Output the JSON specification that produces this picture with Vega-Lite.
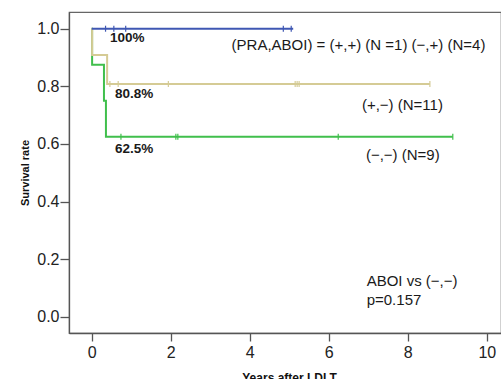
{
  "$schema": "https://vega.github.io/schema/vega-lite/v6.json",
  "width": 432,
  "height": 321,
  "autosize": "none",
  "padding": {"left": 69, "top": 12, "right": 0, "bottom": 46},
  "background": "white",
  "config": {
    "view": {"stroke": "#666666", "strokeWidth": 1.2},
    "font": "Liberation Sans"
  },
  "datasets": {
    "curves": [
      {"grp": "(-,-)", "t": 0, "s": 1},
      {"grp": "(-,-)", "t": 0.01, "s": 0.875},
      {"grp": "(-,-)", "t": 0.31, "s": 0.75},
      {"grp": "(-,-)", "t": 0.36, "s": 0.625},
      {"grp": "(-,-)", "t": 9.14, "s": 0.625},
      {"grp": "(+,-)", "t": 0, "s": 1},
      {"grp": "(+,-)", "t": 0.01, "s": 0.909},
      {"grp": "(+,-)", "t": 0.39, "s": 0.808},
      {"grp": "(+,-)", "t": 8.56, "s": 0.808},
      {"grp": "ABOI", "t": 0, "s": 1},
      {"grp": "ABOI", "t": 5.1, "s": 1}
    ],
    "censor": [
      {"grp": "(-,-)", "t": 0.74, "s": 0.625},
      {"grp": "(-,-)", "t": 2.13, "s": 0.625},
      {"grp": "(-,-)", "t": 2.18, "s": 0.625},
      {"grp": "(-,-)", "t": 6.24, "s": 0.625},
      {"grp": "(-,-)", "t": 9.14, "s": 0.625},
      {"grp": "(+,-)", "t": 0.46, "s": 0.808},
      {"grp": "(+,-)", "t": 0.67, "s": 0.808},
      {"grp": "(+,-)", "t": 1.94, "s": 0.808},
      {"grp": "(+,-)", "t": 5.15, "s": 0.808},
      {"grp": "(+,-)", "t": 5.2, "s": 0.808},
      {"grp": "(+,-)", "t": 5.25, "s": 0.808},
      {"grp": "(+,-)", "t": 8.56, "s": 0.808},
      {"grp": "ABOI", "t": 0.35, "s": 1},
      {"grp": "ABOI", "t": 0.56, "s": 1},
      {"grp": "ABOI", "t": 0.86, "s": 1},
      {"grp": "ABOI", "t": 4.85, "s": 1},
      {"grp": "ABOI", "t": 5.05, "s": 1}
    ],
    "pct": [
      {"t": 0.46, "s": 0.967, "label": "100%"},
      {"t": 0.59, "s": 0.772, "label": "80.8%"},
      {"t": 0.59, "s": 0.581, "label": "62.5%"}
    ],
    "notes": [
      {"t": 3.54, "s": 0.943, "label": "(PRA,ABOI) = (+,+) (N =1)  (−,+) (N=4)"},
      {"t": 6.84, "s": 0.734, "label": "(+,−) (N=11)"},
      {"t": 6.94, "s": 0.563, "label": "(−,−) (N=9)"},
      {"t": 6.96, "s": 0.125, "label": "ABOI vs (−,−)"},
      {"t": 6.96, "s": 0.057, "label": "p=0.157"}
    ]
  },
  "layer": [
    {
      "data": {"name": "curves"},
      "mark": {"type": "line", "interpolate": "step-after", "strokeWidth": 2, "clip": true},
      "encoding": {
        "x": {
          "field": "t", "type": "quantitative",
          "scale": {"domain": [-0.575, 10.36], "nice": false, "zero": false},
          "axis": {
            "values": [0, 2, 4, 6, 8, 10], "format": "d",
            "title": "Years after LDLT", "titleFontSize": 12, "titleFontWeight": "bold",
            "titleColor": "#111", "titlePadding": 12, "titleX": 220,
            "labelFontSize": 16, "labelColor": "#222", "labelPadding": 3,
            "tickSize": 8, "tickColor": "#555", "tickWidth": 1.3,
            "domainColor": "#555", "domainWidth": 1.3, "grid": false
          }
        },
        "y": {
          "field": "s", "type": "quantitative",
          "scale": {"domain": [-0.056, 1.058], "nice": false, "zero": false},
          "axis": {
            "values": [0, 0.2, 0.4, 0.6, 0.8, 1.0], "format": ".1f",
            "title": "Survival rate", "titleFontSize": 11, "titleFontWeight": "bold",
            "titleColor": "#111", "titlePadding": 6,
            "labelFontSize": 16, "labelColor": "#222", "labelPadding": 1,
            "tickSize": 9, "tickColor": "#555", "tickWidth": 1.3,
            "domainColor": "#555", "domainWidth": 1.3, "grid": false
          }
        },
        "color": {
          "field": "grp", "type": "nominal", "legend": null,
          "scale": {"domain": ["(-,-)", "(+,-)", "ABOI"], "range": ["#40bf4c", "#d5cb95", "#3f57b3"]}
        }
      }
    },
    {
      "data": {"name": "censor"},
      "mark": {"type": "point", "shape": "M0,-1L0,1", "size": 36, "filled": false, "strokeWidth": 1.2, "opacity": 1},
      "encoding": {
        "x": {"field": "t", "type": "quantitative"},
        "y": {"field": "s", "type": "quantitative"},
        "color": {"field": "grp", "type": "nominal", "legend": null}
      }
    },
    {
      "data": {"name": "pct"},
      "mark": {"type": "text", "align": "left", "baseline": "middle", "fontSize": 13.5, "fontWeight": "bold", "color": "#1a1a1a"},
      "encoding": {
        "x": {"field": "t", "type": "quantitative"},
        "y": {"field": "s", "type": "quantitative"},
        "text": {"field": "label"}
      }
    },
    {
      "data": {"name": "notes"},
      "mark": {"type": "text", "align": "left", "baseline": "middle", "fontSize": 15, "color": "#1a1a1a"},
      "encoding": {
        "x": {"field": "t", "type": "quantitative"},
        "y": {"field": "s", "type": "quantitative"},
        "text": {"field": "label"}
      }
    }
  ]
}
